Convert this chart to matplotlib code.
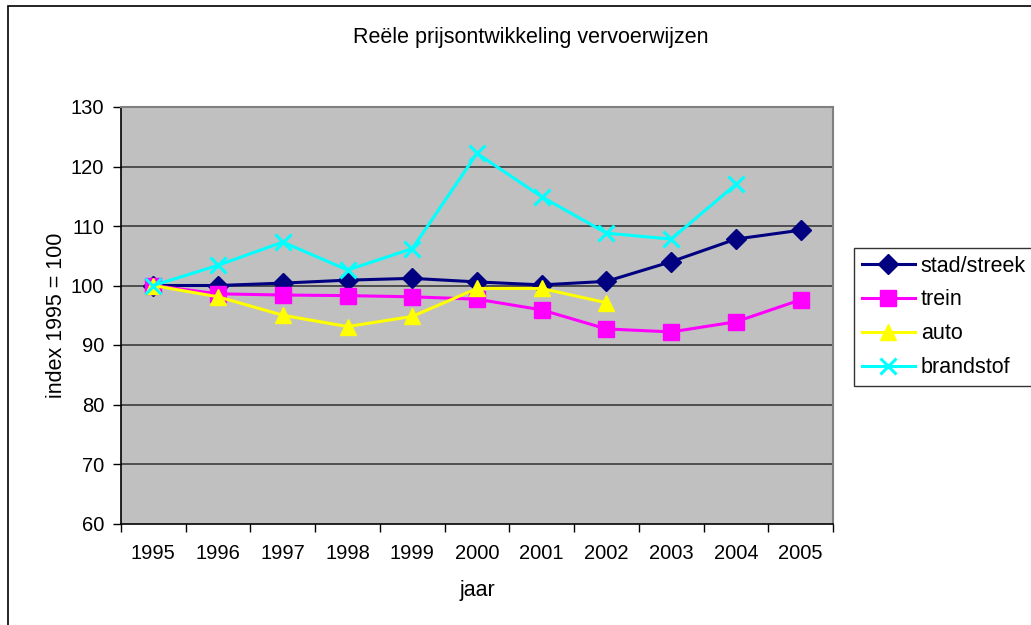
import matplotlib
matplotlib.use("Agg")
import matplotlib.pyplot as plt
from matplotlib.patches import Rectangle

years = ["1995", "1996", "1997", "1998", "1999", "2000", "2001", "2002", "2003", "2004", "2005"]
stad_streek = [100.0, 100.0, 100.4, 100.9, 101.2, 100.6, 100.1, 100.7, 104.0, 107.8, 109.3]
trein = [100.0, 98.6, 98.4, 98.3, 98.1, 97.7, 95.9, 92.7, 92.2, 93.9, 97.6]
auto = [100.0, 98.1, 95.0, 93.1, 94.8, 99.5, 99.5, 97.1]
brandstof = [100.0, 103.4, 107.3, 102.6, 106.2, 122.2, 114.9, 108.8, 107.8, 117.0]
yticks = [60, 70, 80, 90, 100, 110, 120, 130]

plt.rcParams['font.family'] = ['Liberation Sans', 'DejaVu Sans']
FS_TICK = 14.5
FS = 15.5

W, H = 1031, 625
fig = plt.figure(figsize=(W / 100, H / 100), dpi=100)
fig.patch.set_facecolor('white')

# outer chart border (cropped on right and bottom)
fig.patches.append(Rectangle((8 / W, -0.1), 1.2, (H - 6) / H + 0.1, transform=fig.transFigure,
                             fill=False, edgecolor='black', linewidth=1.2, zorder=0))

ax = fig.add_axes([121 / W, (H - 523.5) / H, (833 - 121) / W, (523.5 - 107) / H])
ax.set_facecolor('#C0C0C0')

x = list(range(len(years)))
LW = 2.2
ax.plot(x[:len(stad_streek)], stad_streek, color='#000080', lw=LW, marker='D', ms=10,
        label='stad/streek', zorder=3)
ax.plot(x[:len(trein)], trein, color='#FF00FF', lw=LW, marker='s', ms=11,
        label='trein', zorder=3)
ax.plot(x[:len(auto)], auto, color='#FFFF00', lw=LW, marker='^', ms=12,
        label='auto', zorder=3)
ax.plot(x[:len(brandstof)], brandstof, color='#00FFFF', lw=LW, marker='x', ms=12, mew=2.2,
        label='brandstof', zorder=4)

ax.set_xlim(-0.5, len(years) - 0.5)
ax.set_ylim(60, 130)
ax.set_yticks(yticks)
ax.set_yticklabels([str(v) for v in yticks], fontsize=FS_TICK)
ax.set_xticks(x)
ax.set_xticklabels(years, fontsize=FS_TICK)
ax.set_xticks([i - 0.5 for i in range(len(years) + 1)], minor=True)
ax.tick_params(axis='x', which='major', length=0, pad=15)
ax.tick_params(axis='x', which='minor', length=6, width=1, direction='out', color='black')
ax.tick_params(axis='y', length=6, width=1, direction='out', color='black', pad=6)

for v in yticks[1:-1]:
    ax.axhline(v, color='#303030', lw=1.1, zorder=1)

for side in ['top', 'right']:
    ax.spines[side].set_color('#808080')
    ax.spines[side].set_linewidth(1.5)
for side in ['left', 'bottom']:
    ax.spines[side].set_color('black')
    ax.spines[side].set_linewidth(1.2)

ax.set_xlabel('jaar', fontsize=FS, labelpad=12)
ax.set_ylabel('index 1995 = 100', fontsize=FS, labelpad=3)

fig.text(531 / W, 1 - 38 / H, 'Reële prijsontwikkeling vervoerwijzen', fontsize=FS,
         ha='center', va='center')

leg = fig.legend(loc='upper left', bbox_to_anchor=(854 / W, 1 - 248 / H),
                 bbox_transform=fig.transFigure, fontsize=FS, frameon=True,
                 fancybox=False, edgecolor='black', handlelength=2.5, handletextpad=0.25,
                 labelspacing=0.6, borderpad=0.35, borderaxespad=0)
leg.get_frame().set_linewidth(1.0)
leg.get_frame().set_facecolor('white')

fig.savefig('out.png', dpi=100)
